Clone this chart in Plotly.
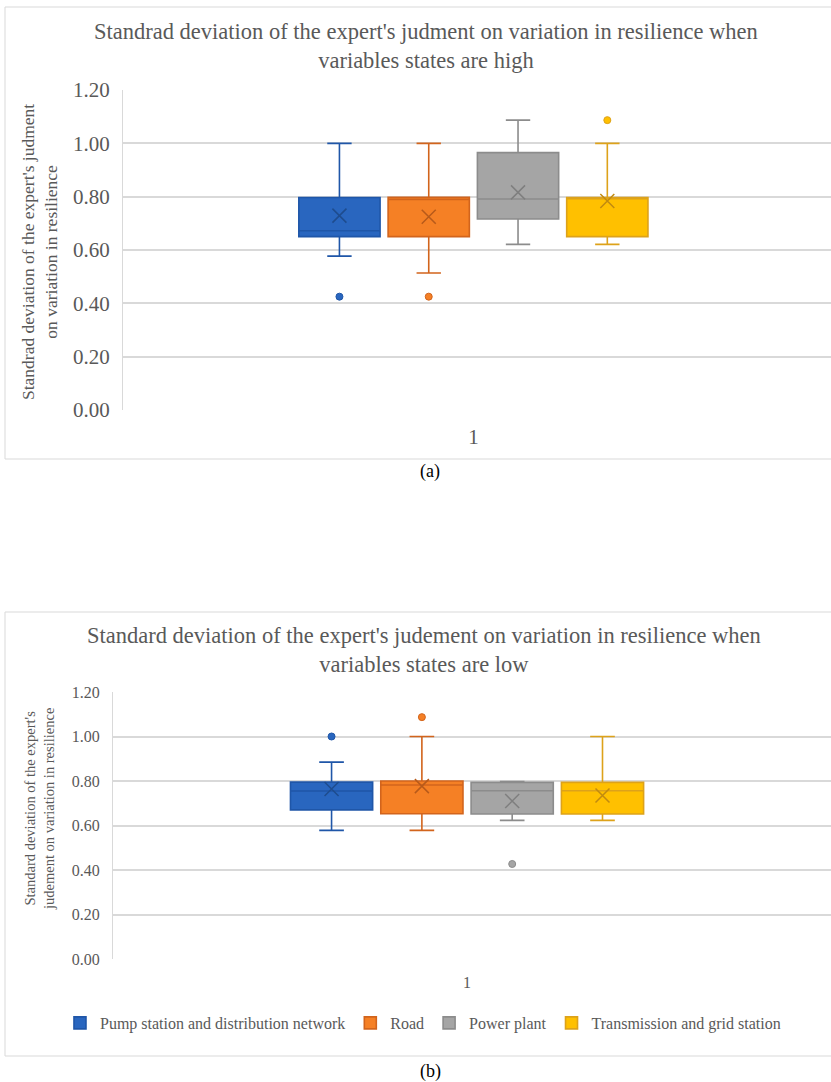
import plotly.graph_objects as go

# ---------------- data ----------------
categories = ["Pump station and distribution network", "Road", "Power plant",
              "Transmission and grid station"]
category_tick = ["1"]

high_q1 = [0.650, 0.650, 0.716, 0.650]
high_median = [0.672, 0.790, 0.791, 0.792]
high_q3 = [0.797, 0.798, 0.965, 0.797]
high_lower = [0.577, 0.514, 0.621, 0.621]
high_upper = [1.000, 1.000, 1.087, 1.000]
high_mean = [0.729, 0.725, 0.816, 0.784]
high_outliers = [[0.425], [0.425], [], [1.087]]

low_q1 = [0.670, 0.653, 0.652, 0.652]
low_median = [0.755, 0.782, 0.756, 0.756]
low_q3 = [0.795, 0.800, 0.794, 0.794]
low_lower = [0.578, 0.578, 0.623, 0.623]
low_upper = [0.885, 1.000, 0.797, 1.000]
low_mean = [0.764, 0.777, 0.710, 0.735]
low_outliers = [[1.000], [1.087], [0.427], []]

y_ticks = [0.0, 0.2, 0.4, 0.6, 0.8, 1.0, 1.2]

# ---------------- styles ----------------
fills = ["#2966BF", "#F58025", "#A5A5A5", "#FFC000"]
edges = ["#1F56A8", "#D2641C", "#8C8C8C", "#DDA21A"]
mean_cols = ["#1E4C8E", "#B85A1A", "#7F7F7F", "#C08A10"]
SERIF = "Liberation Serif"
GREY = "#595959"
W, H = 831, 1082


def px(x):
    return x / W


def py(y):
    return 1 - y / H


offsets = [-1.5, -0.5, 0.5, 1.5]
box_w = 0.91

fig = go.Figure()


def add_panel(xref, yref, q1, med, q3, lo, up, mean, outl, show_legend):
    for i, name in enumerate(categories):
        pos = offsets[i]
        fig.add_trace(go.Box(
            x=[pos], q1=[q1[i]], median=[med[i]], q3=[q3[i]],
            lowerfence=[lo[i]], upperfence=[up[i]],
            name=name, legendgroup=name, showlegend=show_legend,
            fillcolor=fills[i], line=dict(color=edges[i], width=1.6),
            whiskerwidth=0.3, width=box_w, boxpoints=False,
            xaxis=xref, yaxis=yref, hoverinfo="skip"))
        fig.add_trace(go.Scatter(
            x=[pos], y=[mean[i]], mode="markers", showlegend=False,
            legendgroup=name,
            marker=dict(symbol="x-thin", size=14,
                        line=dict(color=mean_cols[i], width=1.5)),
            xaxis=xref, yaxis=yref, hoverinfo="skip"))
        if outl[i]:
            fig.add_trace(go.Scatter(
                x=[pos] * len(outl[i]), y=outl[i], mode="markers",
                showlegend=False, legendgroup=name,
                marker=dict(symbol="circle", size=7, color=fills[i],
                            line=dict(color=edges[i], width=1)),
                xaxis=xref, yaxis=yref, hoverinfo="skip"))


add_panel("x", "y", high_q1, high_median, high_q3, high_lower,
          high_upper, high_mean, high_outliers, False)
add_panel("x2", "y2", low_q1, low_median, low_q3, low_lower,
          low_upper, low_mean, low_outliers, True)

yax_common = dict(range=[0, 1.2], tickvals=y_ticks, tickformat=".2f",
                  showgrid=True, gridcolor="#D9D9D9", gridwidth=1.5,
                  zeroline=False, showline=True, linecolor="#D9D9D9",
                  linewidth=1, ticks="", fixedrange=True, automargin=False)
xax_common = dict(showgrid=False, zeroline=False, showline=False, ticks="",
                  tickvals=[0], ticktext=category_tick, fixedrange=True,
                  automargin=False)

fig.update_layout(
    width=W, height=H,
    margin=dict(l=0, r=0, t=0, b=0, autoexpand=False),
    paper_bgcolor="white", plot_bgcolor="white",
    showlegend=True,
    xaxis=dict(domain=[px(123), 1], range=[-3.924, 4.005], anchor="y",
               tickfont=dict(family=SERIF, size=21, color=GREY),
               ticklabelstandoff=12, **xax_common),
    yaxis=dict(domain=[py(410), py(90)], anchor="x",
               tickfont=dict(family=SERIF, size=21, color=GREY),
               ticklabelstandoff=8, **yax_common),
    xaxis2=dict(domain=[px(113), 1], range=[-3.92, 4.03], anchor="y2",
                tickfont=dict(family=SERIF, size=16, color=GREY),
                ticklabelstandoff=12, **xax_common),
    yaxis2=dict(domain=[py(959), py(692)], anchor="x2",
                tickfont=dict(family=SERIF, size=16, color=GREY),
                ticklabelstandoff=9, **yax_common),
    legend=dict(orientation="h", x=0.509, xanchor="center", y=py(1023),
                yanchor="middle", font=dict(family=SERIF, size=16, color=GREY),
                itemwidth=30, tracegroupgap=0, bgcolor="rgba(0,0,0,0)"),
)

# panel borders
fig.add_shape(type="rect", xref="paper", yref="paper", x0=px(5), x1=1.01,
              y0=py(459), y1=py(7), line=dict(color="#D9D9D9", width=1),
              fillcolor="rgba(0,0,0,0)", layer="below")
fig.add_shape(type="rect", xref="paper", yref="paper", x0=px(5), x1=1.01,
              y0=py(1056), y1=py(612), line=dict(color="#D9D9D9", width=1),
              fillcolor="rgba(0,0,0,0)", layer="below")

annotations = [
    dict(text="Standrad deviation of the expert's judment on variation in resilience when<br>variables states are high",
         x=px(426), y=py(46), font=dict(family=SERIF, size=22.5, color=GREY)),
    dict(text="Standard deviation of the expert's judement on variation in resilience when<br>variables states are low",
         x=px(424), y=py(650), font=dict(family=SERIF, size=22.5, color=GREY)),
    dict(text="Standrad deviation of the expert's judment<br>on variation in resilience",
         x=px(39), y=py(252), textangle=-90,
         font=dict(family=SERIF, size=17.5, color=GREY)),
    dict(text="Standard deviation of the expert's<br>judement on variation in resilience",
         x=px(39), y=py(809), textangle=-90,
         font=dict(family=SERIF, size=14.5, color=GREY)),
    dict(text="(a)", x=px(430), y=py(472),
         font=dict(family=SERIF, size=18, color="black")),
    dict(text="(b)", x=px(430), y=py(1071),
         font=dict(family=SERIF, size=18, color="black")),
]
for a in annotations:
    fig.add_annotation(xref="paper", yref="paper", showarrow=False,
                       xanchor="center", yanchor="middle", **a)

fig.write_html("out.html")
